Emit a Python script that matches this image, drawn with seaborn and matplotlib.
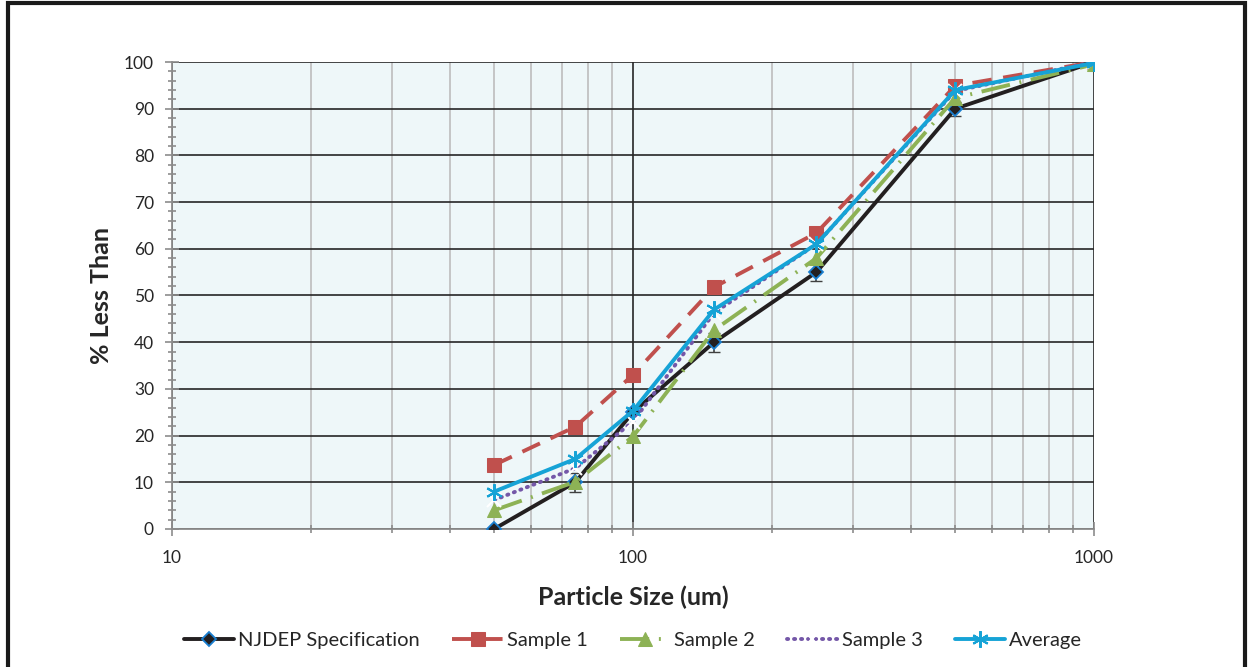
import matplotlib
matplotlib.use("Agg")
import matplotlib.pyplot as plt
import seaborn as sns
import pandas as pd
import numpy as np
from matplotlib.ticker import LogLocator, FixedLocator, NullFormatter, FixedFormatter, MultipleLocator
from matplotlib.patches import Rectangle

sizes = [50, 75, 100, 150, 250, 500, 1000]
njdep = [0, 10, 25, 40, 55, 90, 100]
njdep_err = [0, 2, 0, 2, 2, 1.5, 0]
sample1 = [13.7, 21.9, 33.0, 51.8, 63.4, 94.9, 100]
sample2 = [4.0, 10.1, 19.8, 42.6, 58.0, 92.3, 99.5]
sample3 = [6.2, 13.0, 23.0, 46.3, 61.0, 93.8, 100]
average = [8.0, 15.0, 25.3, 47.0, 61.0, 94.0, 99.8]

sns.set_theme(style="white")
plt.rcParams['font.family'] = ['Lato', 'DejaVu Sans']

fig = plt.figure(figsize=(12.51, 6.67), dpi=100)
ax = fig.add_axes([0.1375, 0.207, 0.737, 0.7])
ax.set_facecolor('#EEF7F9')

df = pd.DataFrame({'size': sizes, 'NJDEP Specification': njdep, 'Sample 1': sample1,
                   'Sample 2': sample2, 'Sample 3': sample3, 'Average': average})

lw = 2.8
ax.errorbar(sizes, njdep, yerr=njdep_err, fmt='none', ecolor='#404040', elinewidth=1.2, capsize=4, zorder=3)
sns.lineplot(data=df, x='size', y='NJDEP Specification', ax=ax, color='#231F20', lw=lw,
             marker='D', markersize=7, markerfacecolor='#231F20', markeredgecolor='#1A7FD0',
             markeredgewidth=1.3, label='NJDEP Specification', zorder=4)
sns.lineplot(data=df, x='size', y='Sample 1', ax=ax, color='#C0504D', lw=lw,
             marker='s', markersize=10, markeredgecolor='#C0504D', dashes=(5, 3),
             label='Sample 1', zorder=5)
sns.lineplot(data=df, x='size', y='Sample 2', ax=ax, color='#8DB255', lw=lw,
             marker='^', markersize=10, markeredgecolor='#8DB255', dashes=(7.5, 2.5, 0.5, 2.5),
             label='Sample 2', zorder=5)
sns.lineplot(data=df, x='size', y='Sample 3', ax=ax, color='#7457A8', lw=lw,
             marker='x', markersize=10, markeredgewidth=1.5, dashes=(0.3, 1.5),
             label='Sample 3', zorder=6)
ax.lines[-1].set_dash_capstyle('round')
sns.lineplot(data=df, x='size', y='Average', ax=ax, color='#16A3D6', lw=lw,
             marker=(6, 2, 0), markersize=12, markeredgewidth=1.5, markeredgecolor='#16A3D6',
             label='Average', zorder=7)

ax.set_xscale('log')
ax.set_xlim(10, 1000)
ax.set_ylim(0, 100)

ax.xaxis.set_major_locator(FixedLocator([10, 100, 1000]))
ax.xaxis.set_major_formatter(FixedFormatter(['10', '100', '1000']))
ax.xaxis.set_minor_locator(LogLocator(base=10, subs=np.arange(2, 10)))
ax.xaxis.set_minor_formatter(NullFormatter())
ax.yaxis.set_major_locator(MultipleLocator(10))
ax.yaxis.set_minor_locator(MultipleLocator(2))

ax.grid(True, which='major', axis='y', color='#262626', lw=1.2)
ax.grid(True, which='major', axis='x', color='#262626', lw=1.2)
ax.grid(True, which='minor', axis='x', color='#BDBDBD', lw=1.2)
ax.set_axisbelow(True)

for s in ['left', 'bottom']:
    ax.spines[s].set_color('#8C8C8C')
    ax.spines[s].set_linewidth(1.3)
ax.spines['top'].set_visible(False)
ax.spines['right'].set_visible(False)
ax.tick_params(axis='both', which='both', direction='inout', color='#8C8C8C', width=1.2)
ax.tick_params(axis='y', which='major', length=10, labelsize=12.5, pad=8)
ax.tick_params(axis='y', which='minor', length=6)
ax.tick_params(axis='x', which='major', length=10, labelsize=12.5, pad=10)
ax.tick_params(axis='x', which='minor', length=6)
ax.tick_params(left=True, bottom=True, which='both')

ax.set_xlabel('Particle Size (um)', fontsize=18, fontweight='bold', labelpad=14)
ax.set_ylabel('% Less Than', fontsize=18, fontweight='bold', labelpad=8)

handles, labels = ax.get_legend_handles_labels()
ax.legend(handles, labels, loc='center', bbox_to_anchor=(0.5, -0.238), ncol=5, frameon=False,
          fontsize=14.5, handlelength=2.5, handletextpad=0.2, columnspacing=1.6)

fig.patches.append(Rectangle((0.006, -0.05), 0.989, 1.045, transform=fig.transFigure,
                             fill=False, edgecolor='#1A1A1A', lw=3))

fig.savefig('out.png', dpi=100)
